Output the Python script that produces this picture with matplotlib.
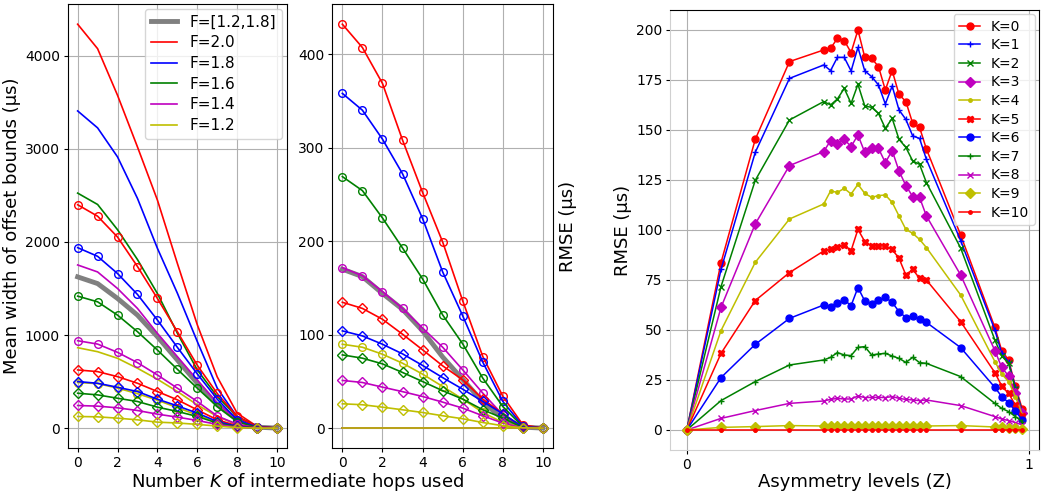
import numpy as np
import matplotlib
matplotlib.use("Agg")
import matplotlib.pyplot as plt

# ---- data ----
hops = list(range(11))
f_labels = ["F=2.0", "F=1.8", "F=1.6", "F=1.4", "F=1.2"]
f_colors = ["r", "b", "g", "m", "y"]

# left panel: mean width of offset bounds (us)
width_plain = [
    [4340, 4077, 3576, 3021, 2450, 1770, 1110, 550, 160, 18, 0],
    [3408, 3226, 2914, 2468, 1932, 1450, 930, 430, 120, 15, 0],
    [2525, 2403, 2132, 1811, 1446, 1020, 625, 339, 125, 15, 0],
    [1753, 1678, 1500, 1286, 1018, 768, 518, 268, 89, 10, 0],
    [864, 821, 750, 643, 525, 393, 250, 125, 36, 3, 0],
]
width_range = [1625, 1553, 1393, 1214, 982, 732, 482, 250, 89, 10, 0]
width_circ = [
    [2400, 2277, 2053, 1736, 1393, 1036, 675, 372, 125, 15, 0],
    [1939, 1846, 1661, 1436, 1161, 868, 582, 311, 89, 10, 0],
    [1418, 1357, 1214, 1036, 839, 632, 429, 232, 71, 5, 0],
    [939, 903, 814, 703, 571, 429, 286, 130, 42, 3, 0],
    [490, 478, 430, 370, 300, 220, 140, 65, 18, 1, 0],
]
width_diam = [
    [625, 607, 553, 482, 393, 304, 196, 89, 25, 2, 0],
    [500, 482, 439, 393, 311, 239, 161, 71, 18, 1, 0],
    [375, 357, 321, 286, 225, 179, 125, 54, 14, 1, 0],
    [243, 236, 218, 189, 150, 118, 82, 40, 9, 0, 0],
    [125, 121, 107, 89, 64, 55, 40, 22, 5, 0, 0],
]

# middle panel: RMSE (us) vs K
rmse_plain = [[0] * 11 for _ in range(5)]
rmse_range = [170, 162, 144, 127, 104, 76, 52, 28, 10, 1, 0]
rmse_circ = [
    [432, 407, 368.6, 308, 252, 199, 136, 76.5, 34, 3.5, 0],
    [358, 340, 309, 272, 224, 167, 120, 70.5, 28.5, 2, 0],
    [269, 254, 224.7, 192.6, 159.5, 121, 90, 53.4, 23, 1.5, 0],
    [171.6, 163, 146, 128, 107, 86.5, 62.3, 37.4, 14, 1, 0],
    [89.7, 86.5, 79, 69.4, 57.7, 44.5, 31, 16.7, 6, 0.5, 0],
]
rmse_diam = [
    [134.6, 128, 116.4, 100.4, 83.7, 66.6, 51.6, 31, 15.3, 1, 0],
    [104, 98.6, 89.7, 79.4, 67, 54, 41.6, 28.5, 15.3, 1, 0],
    [78.3, 74.8, 68.7, 59.5, 49.8, 40, 31, 19.6, 10.7, 0.5, 0],
    [51, 48.8, 43.8, 39, 33.8, 27.8, 21.4, 13.2, 5.3, 0.2, 0],
    [26, 25, 22.4, 19.6, 16.7, 13.2, 10, 6, 2.5, 0.3, 0],
]

# right panel: RMSE (us) vs asymmetry level Z, one curve per K
z_levels = [0, 0.1, 0.2, 0.3, 0.40, 0.42, 0.44, 0.46, 0.48, 0.50, 0.52, 0.54,
            0.56, 0.58, 0.60, 0.62, 0.64, 0.66, 0.68, 0.70, 0.8,
            0.90, 0.92, 0.94, 0.96, 0.98]
rmse_z = [
    [0, 83.7, 145.3, 184.2, 190, 190.8, 195.8, 194.7, 188.7, 200, 186.3, 185.8,
     181.7, 170, 179.7, 167.8, 164.2, 153.3, 151.3, 140.5, 97.5, 51.3, 39.7, 35, 22, 10.5],
    [0, 80.3, 138.8, 175.8, 182.5, 179.7, 186.3, 186.3, 179.5, 191.3, 179.5, 176.7,
     172.5, 163, 172, 160, 155.3, 147, 145.8, 135.3, 94.7, 50, 38.3, 34, 21.3, 9],
    [0, 71.7, 124.8, 155, 164.2, 162.5, 165.5, 170.8, 163.3, 172.8, 162, 161.3,
     158.3, 150.8, 155.8, 145.3, 141.3, 134.5, 132.8, 123.7, 91, 45, 37, 33.3, 20.3, 8.7],
    [0, 61.3, 103, 132.2, 139.2, 144.7, 143, 145.3, 141.7, 147.5, 138.8, 141.2,
     140.8, 133.7, 139.7, 129.5, 122.2, 116.7, 116.3, 107, 77.5, 39.7, 31.3, 27, 18.3, 8.7],
    [0, 49.7, 83.8, 105.5, 113, 119.5, 118.8, 120.8, 118, 122.8, 118.3, 116.3,
     117.2, 117.5, 113.8, 107, 100.3, 98.3, 95.3, 91.2, 67.5, 34.2, 28, 24.2, 16.7, 7.5],
    [0, 38.3, 64.7, 78.7, 89.5, 90.3, 91.3, 92.5, 89.7, 100.3, 94.2, 92,
     92, 92, 90.3, 85.8, 77.5, 80.3, 75.8, 75, 54.2, 28.7, 22, 18.3, 12.5, 7],
    [0, 26.2, 42.8, 55.8, 62.5, 61.7, 63.3, 65, 62.2, 71.2, 64.5, 62.8,
     65, 66.3, 63.8, 59.2, 56.2, 57, 55.3, 53.8, 41.2, 21.3, 16.7, 13.7, 9.5, 5],
    [0, 14.7, 24.2, 32.5, 35, 36.3, 38.7, 37.5, 37.2, 41.3, 41.7, 37.5,
     38, 38.3, 37, 35.8, 33.8, 36.3, 33.7, 33.3, 26.7, 13.3, 10.8, 9.2, 6.7, 4.2],
    [0, 5.8, 9.7, 13.3, 14.5, 15.3, 15.8, 15.5, 15.5, 17, 16.2, 16.3,
     16.3, 16.2, 16.7, 15.8, 15.3, 15, 14.7, 15, 12.2, 6.7, 5.5, 4.7, 3.7, 2.5],
    [0, 1.3, 1.7, 2.2, 2, 2, 2, 2, 2, 2.2, 2, 2,
     2.2, 2, 2, 2, 2, 2, 2, 2, 2.2, 1.5, 1.3, 1.1, 0.9, 0.5],
    [0] * 26,
]
k_labels = ["K=%d" % k for k in range(11)]
k_colors = ["r", "b", "g", "m", "y"]
k_markers = ["o", "+", "x", "D", ".", "X"]


def draw_hops_panel(ax, plain, rng, circ, diam):
    ax.plot(hops, rng, color="gray", lw=3.5, label="F=[1.2,1.8]")
    for vals, lab, c in zip(plain, f_labels, f_colors):
        ax.plot(hops, vals, color=c, lw=1.2, label=lab)
    for vals, c in zip(circ, f_colors):
        ax.plot(hops, vals, color=c, lw=1.2, marker="o", ms=5.5, mfc="none")
    for vals, c in zip(diam, f_colors):
        ax.plot(hops, vals, color=c, lw=1.2, marker="D", ms=5, mfc="none")
    ax.set_xticks([0, 2, 4, 6, 8, 10])
    ax.grid(True)
    ax.tick_params(labelsize=10, length=3, pad=2.5)


fig = plt.figure(figsize=(10.51, 4.94), dpi=100)
ax1 = fig.add_axes([0.0644, 0.0925, 0.2087, 0.8994])
ax2 = fig.add_axes([0.3162, 0.0925, 0.2100, 0.8994])
ax3 = fig.add_axes([0.6375, 0.0891, 0.3511, 0.8907])

draw_hops_panel(ax1, width_plain, width_range, width_circ, width_diam)
ax1.set_ylabel("Mean width of offset bounds (\u03bcs)", fontsize=13, labelpad=3)
ax1.legend(loc="upper right", fontsize=11, labelspacing=0.37,
           handlelength=1.75, borderaxespad=0.3)

draw_hops_panel(ax2, rmse_plain, rmse_range, rmse_circ, rmse_diam)
ax2.set_yticks([0, 100, 200, 300, 400])
ax2.yaxis.set_label_position("right")
ax2.set_ylabel("RMSE (\u03bcs)", fontsize=13)

fig.text(0.283, 0.025, "Number $K$ of intermediate hops used",
         fontsize=13, ha="center", va="center")

for k in range(11):
    ax3.plot(z_levels, rmse_z[k], color=k_colors[k % 5],
             marker=k_markers[k % 6], ms=5, lw=1.1, label=k_labels[k])
ax3.set_xticks([0, 1])
ax3.set_yticks(np.arange(0, 201, 25))
ax3.grid(True)
ax3.tick_params(labelsize=10, length=3, pad=2.5)
ax3.set_ylabel("RMSE (\u03bcs)", fontsize=13, labelpad=3)
ax3.legend(loc="upper right", fontsize=10, labelspacing=0.33,
           handlelength=1.5, borderaxespad=0.3)
ax3.spines["left"].set_color("#d0d0d0")
ax3.spines["bottom"].set_color("#d0d0d0")
fig.text(0.813, 0.025, "Asymmetry levels (Z)", fontsize=13,
         ha="center", va="center")

fig.savefig("out.png", dpi=100)
